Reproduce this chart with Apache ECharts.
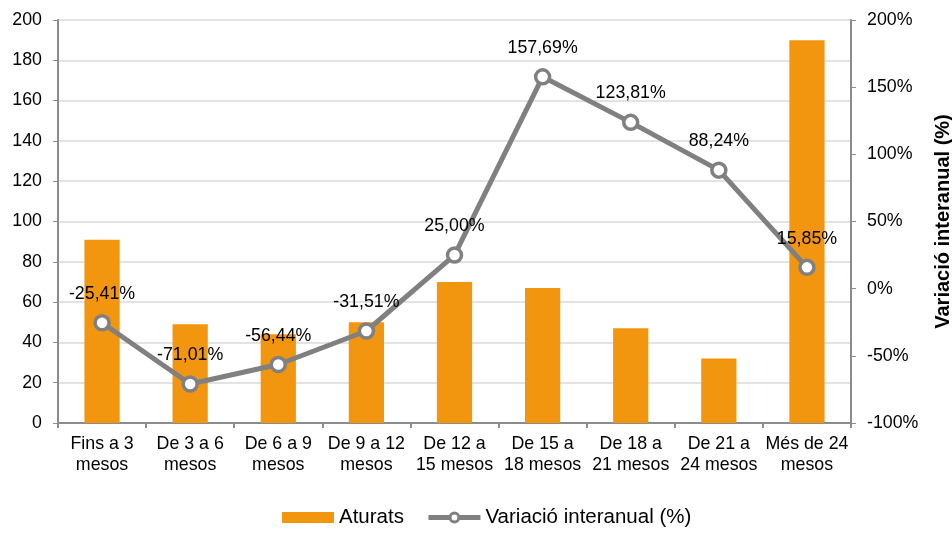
<!DOCTYPE html>
<html>
<head>
<meta charset="utf-8">
<script src="https://cdn.jsdelivr.net/npm/echarts@6/dist/echarts.min.js"></script>
<style>
  html, body { margin: 0; padding: 0; background: #fff; }
  #chart { width: 952px; height: 534px; }
</style>
</head>
<body>
<div id="chart"></div>
<script>
// dades
var categories = ['Fins a 3\nmesos', 'De 3 a 6\nmesos', 'De 6 a 9\nmesos', 'De 9 a 12\nmesos',
    'De 12 a\n15 mesos', 'De 15 a\n18 mesos', 'De 18 a\n21 mesos', 'De 21 a\n24 mesos', 'Més de 24\nmesos'];
var aturats = [91, 49, 44, 50, 70, 67, 47, 32, 190];
var variacio = [-25.41, -71.01, -56.44, -31.51, 25.00, 157.69, 123.81, 88.24, 15.85];

var FONT = 'Liberation Sans, Arial, sans-serif';
var FS = 17.8;
var AXIS_COLOR = '#8c8c8c';

var chart = echarts.init(document.getElementById('chart'));

var fmtPct = function (v) {
    return v.toFixed(2).replace('.', ',') + '%';
};

chart.setOption({
    animation: false,
    textStyle: { fontFamily: FONT },
    grid: { left: 58, right: 101, top: 20, bottom: 111, containLabel: false, outerBoundsMode: 'none' },
    legend: {
        bottom: 1,
        left: 277,
        itemGap: 22,
        itemWidth: 52,
        itemHeight: 11,
        textStyle: { fontSize: 20.5, color: '#000', fontFamily: FONT },
        data: [
            { name: 'Aturats', icon: 'rect' },
            {
                name: 'Variació interanual (%)',
                lineStyle: { width: 5, color: '#808080' },
                itemStyle: { color: '#fff', borderColor: '#808080', borderWidth: 3 }
            }
        ]
    },
    xAxis: {
        type: 'category',
        data: categories,
        axisLine: { lineStyle: { color: AXIS_COLOR, width: 2 } },
        axisTick: { show: true, length: 5, lineStyle: { color: AXIS_COLOR, width: 2 } },
        axisLabel: { color: '#000', fontSize: FS, lineHeight: 21, margin: 11, interval: 0, fontFamily: FONT }
    },
    yAxis: [{
        type: 'value',
        min: 0, max: 200, interval: 20,
        axisLine: { show: true, lineStyle: { color: AXIS_COLOR, width: 2 } },
        axisTick: { show: true, length: 5, lineStyle: { color: AXIS_COLOR, width: 1 } },
        axisLabel: { color: '#000', fontSize: FS, margin: 16, fontFamily: FONT },
        splitLine: { lineStyle: { color: '#e3e3e3', width: 2 } }
    }, {
        type: 'value',
        min: -100, max: 200, interval: 50,
        position: 'right',
        name: 'Variació interanual (%)',
        nameLocation: 'middle',
        nameRotate: 90,
        nameGap: 82,
        nameTextStyle: { color: '#000', fontSize: 20, fontWeight: 'bold', fontFamily: FONT },
        axisLine: { show: true, lineStyle: { color: AXIS_COLOR, width: 2 } },
        axisTick: { show: true, length: 5, lineStyle: { color: AXIS_COLOR, width: 1 } },
        axisLabel: { color: '#000', fontSize: FS, margin: 16, formatter: '{value}%', fontFamily: FONT },
        splitLine: { show: false }
    }],
    series: [{
        name: 'Aturats',
        type: 'bar',
        data: aturats,
        barWidth: '40%',
        itemStyle: { color: '#F3960F' }
    }, {
        name: 'Variació interanual (%)',
        type: 'line',
        yAxisIndex: 1,
        data: variacio,
        symbol: 'circle',
        symbolSize: 14,
        lineStyle: { color: '#808080', width: 5 },
        itemStyle: { color: '#fff', borderColor: '#808080', borderWidth: 3.5 },
        label: {
            show: true,
            position: 'top',
            distance: 11,
            color: '#000',
            fontSize: FS,
            fontFamily: FONT,
            formatter: function (p) { return fmtPct(p.value); }
        },
        z: 5
    }]
});
</script>
</body>
</html>
